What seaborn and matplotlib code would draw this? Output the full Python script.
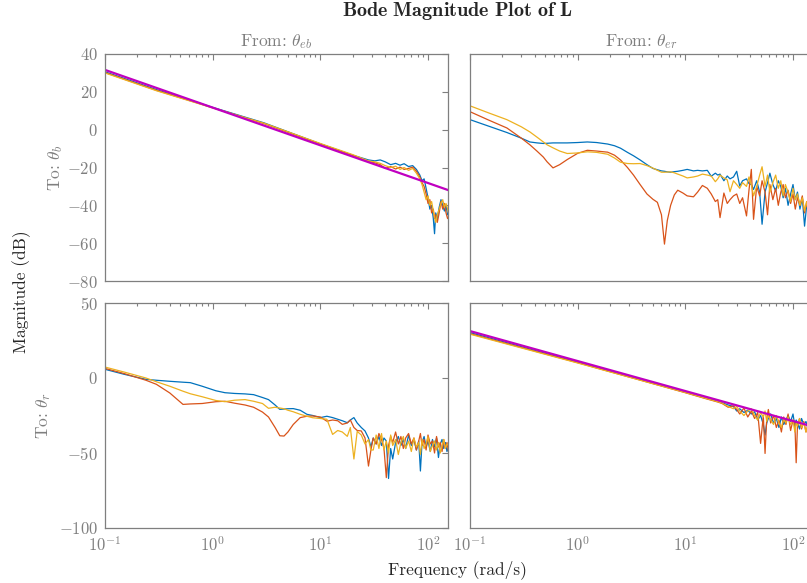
"""
Bode magnitude plot of L (2x2, MATLAB look) redone with seaborn.
"""

import numpy as np
import matplotlib
matplotlib.use("Agg")

import matplotlib.pyplot as plt
import matplotlib.ticker as mticker
import seaborn as sns

# ============================================================
# DATA (dB values)
# ============================================================
MAG_FREQ = [0.1, 155]
TL_MAG = [31.6, -32.0]
BR_MAG = [31.3, -32.5]

# From theta_eb -> To theta_b
TL_FREQ = [0.1, 0.3, 1, 3, 10, 20, 28, 32, 36, 40,
           45, 50, 55, 60, 66, 72, 78, 84, 88, 92,
           96, 100, 104, 108, 112, 115, 118, 122, 127, 132,
           137, 142, 147, 152, 155]
TL_BLUE = [30.6, 21.2, 11.8, 3.6, -7.5, -13.5, -16.0, -16.5, -16.0, -17.0,
           -18.5, -17.8, -18.8, -18.0, -19.5, -19.0, -21.0, -24.0, -27.0, -26.0,
           -31.0, -36.0, -42.0, -40.0, -47.0, -55.0, -44.0, -47.0, -41.0, -37.0,
           -40.0, -43.0, -40.0, -45.0, -44.0]
TL_ORANGE = [30.2, 20.8, 11.6, 3.2, -7.6, -13.6, -16.8, -17.5, -18.5, -20.5,
             -19.5, -20.8, -19.8, -21.0, -20.5, -19.8, -22.0, -25.0, -28.0, -30.0,
             -34.0, -39.0, -37.0, -44.0, -42.0, -47.0, -45.0, -49.0, -44.0, -38.0,
             -42.0, -39.0, -44.0, -47.0, -46.0]
TL_YELLOW = [30.0, 20.6, 11.5, 3.4, -7.3, -13.2, -16.5, -17.0, -17.8, -19.0,
             -20.0, -19.3, -21.0, -20.0, -21.5, -20.5, -23.0, -26.0, -29.0, -33.0,
             -37.0, -35.0, -40.0, -38.0, -43.0, -46.0, -49.0, -45.0, -42.0, -39.0,
             -37.0, -41.0, -39.0, -42.0, -44.0]

# From theta_er -> To theta_b
TR_FREQ = [0.1, 0.15, 0.22, 0.3, 0.36, 0.42, 0.48, 0.52, 0.59, 0.68,
           0.8, 1.0, 1.23, 1.5, 1.9, 2.2, 2.5, 2.9, 3.3, 3.8,
           4.4, 5.0, 5.5, 6.0, 6.4, 6.8, 7.3, 7.9, 8.5, 9.5,
           10.4, 11.9, 13, 14.4, 16, 17.4, 19, 20, 21, 22.8,
           24.5, 26, 28, 30, 32, 34, 37, 39, 41, 43,
           46, 49, 51.6, 55, 58, 61, 65, 69, 73, 77,
           81, 85, 90, 95, 100, 105, 110, 116, 122, 128,
           134, 140, 146, 150, 155]
TR_BLUE = [5.3, 1.8, -1.5, -4.5, -6.5, -7.0, -7.3, -7.2, -7.0, -7.0,
           -7.0, -6.8, -6.5, -6.8, -7.6, -8.5, -9.8, -12.0, -13.8, -16.0,
           -18.5, -20.5, -21.2, -21.8, -22.0, -22.3, -22.5, -22.2, -22.0, -21.5,
           -21.0, -21.8, -21.5, -21.8, -21.5, -24.6, -23.0, -24.0, -23.5, -27.0,
           -24.5, -26.0, -25.0, -22.0, -29.8, -27.0, -26.0, -28.5, -29.0, -31.6,
           -27.0, -33.0, -50.0, -33.0, -28.0, -23.0, -29.0, -32.5, -27.0, -30.0,
           -36.0, -31.0, -40.0, -34.0, -29.0, -37.0, -33.0, -42.0, -36.0, -51.0,
           -40.0, -44.0, -38.0, -47.0, -42.0]
TR_ORANGE = [9.5, 5.0, 0.9, -4.5, -8.0, -11.4, -14.5, -17.0, -20.2, -18.5,
             -15.8, -12.5, -10.9, -11.3, -11.9, -13.5, -16.0, -20.0, -24.0, -29.0,
             -34.0, -36.8, -38.4, -45.0, -60.5, -48.0, -40.0, -34.5, -32.0, -33.5,
             -35.0, -35.5, -33.0, -29.5, -31.0, -34.0, -38.0, -37.0, -46.5, -33.5,
             -39.0, -37.0, -35.0, -34.0, -39.0, -36.0, -45.6, -32.0, -21.0, -47.4,
             -30.0, -35.0, -27.0, -33.0, -45.0, -29.0, -37.0, -31.0, -40.0, -33.0,
             -29.0, -36.0, -32.0, -39.0, -34.0, -42.0, -36.0, -40.0, -35.0, -44.0,
             -38.0, -46.0, -41.0, -48.0, -43.0]
TR_YELLOW = [12.6, 8.8, 5.3, 1.5, -1.2, -4.0, -6.5, -8.0, -9.6, -11.3,
             -12.6, -12.3, -11.7, -12.0, -13.0, -15.0, -17.2, -17.9, -18.0, -17.9,
             -19.0, -20.3, -21.5, -22.5, -22.5, -22.4, -22.3, -22.8, -23.5, -24.5,
             -25.5, -25.0, -24.5, -23.5, -24.0, -24.5, -27.5, -26.0, -24.0, -25.5,
             -26.5, -32.8, -27.0, -29.0, -31.0, -28.0, -30.0, -25.0, -29.0, -35.0,
             -30.0, -24.0, -19.6, -30.0, -24.0, -33.0, -28.0, -24.0, -31.0, -27.0,
             -35.0, -29.0, -33.0, -38.0, -31.0, -37.0, -34.0, -40.0, -36.0, -43.0,
             -38.0, -45.0, -40.0, -46.0, -41.0]

# From theta_eb -> To theta_r
BL_FREQ = [0.1, 0.15, 0.24, 0.3, 0.4, 0.53, 0.62, 0.8, 1.07, 1.3,
           1.6, 2.0, 2.4, 2.9, 3.3, 3.8, 4.2, 4.6, 5.0, 5.6,
           6.5, 7.5, 8.5, 10, 11.5, 13, 14.5, 16, 17.8, 19,
           20.5, 22, 24, 26, 28, 29.5, 31, 33, 35, 37,
           39, 41, 43, 45, 47, 50, 53, 56, 59, 62,
           66, 70, 74, 78, 82, 85, 88, 92, 96, 100,
           105, 110, 115, 120, 125, 130, 135, 140, 145, 150,
           155]
BL_BLUE = [5.8, 2.5, -0.9, -1.5, -2.2, -2.8, -3.1, -5.5, -8.5, -9.8,
           -10.3, -10.6, -11.1, -13.0, -14.4, -18.0, -20.9, -20.7, -20.5, -20.4,
           -21.5, -24.2, -25.0, -26.4, -25.5, -26.4, -27.5, -28.5, -29.8, -28.0,
           -26.4, -30.0, -33.0, -35.3, -40.0, -46.0, -40.0, -44.0, -39.0, -45.0,
           -40.0, -42.0, -67.0, -47.0, -54.0, -43.0, -39.0, -45.0, -41.0, -47.0,
           -38.0, -45.0, -41.0, -48.0, -42.0, -62.0, -43.0, -39.0, -46.0, -42.0,
           -49.0, -41.0, -46.0, -40.0, -53.0, -44.0, -41.0, -47.0, -43.0, -49.0,
           -46.0]
BL_ORANGE = [6.4, 3.0, -1.5, -4.2, -10.0, -17.6, -17.3, -17.0, -15.8, -15.5,
             -16.8, -18.0, -19.5, -22.7, -26.0, -33.0, -38.5, -38.7, -36.0, -31.0,
             -26.4, -25.5, -25.3, -26.0, -28.8, -28.0, -28.5, -30.9, -30.0, -28.0,
             -33.0, -35.0, -35.3, -40.0, -58.7, -48.0, -40.0, -44.0, -37.0, -41.0,
             -47.0, -66.4, -45.0, -39.0, -43.0, -36.0, -44.0, -39.0, -47.0, -40.0,
             -37.0, -44.0, -40.0, -48.0, -42.0, -37.0, -45.0, -41.0, -48.0, -38.0,
             -44.0, -42.0, -50.0, -39.0, -46.0, -43.0, -49.0, -41.0, -47.0, -43.0,
             -49.0]
BL_YELLOW = [7.3, 4.0, 0.0, -2.5, -5.5, -8.8, -10.5, -12.5, -15.0, -15.8,
             -14.8, -14.4, -15.5, -17.0, -20.2, -19.5, -20.0, -20.5, -21.5, -22.5,
             -24.2, -25.5, -26.5, -27.0, -27.5, -37.6, -35.0, -36.0, -38.9, -33.0,
             -54.0, -35.6, -38.0, -44.0, -41.0, -48.0, -48.0, -38.0, -47.0, -37.0,
             -48.0, -42.0, -50.0, -38.0, -45.0, -41.0, -51.0, -43.0, -39.0, -47.0,
             -42.0, -49.0, -40.0, -46.0, -43.0, -51.0, -41.0, -47.0, -44.0, -39.0,
             -49.0, -45.0, -42.0, -48.0, -43.0, -50.0, -45.0, -41.0, -47.0, -44.0,
             -45.0]

# From theta_er -> To theta_r
BR_FREQ = [0.1, 1, 10, 15, 20, 22, 25, 28, 30, 32,
           35, 38, 41, 44, 47, 50, 53, 55, 57, 59,
           62, 66, 70, 74, 78, 82, 86, 90, 95, 100,
           104, 107, 110, 115, 120, 126, 132, 138, 144, 150,
           155]
BR_BLUE = [30.3, 10.6, -9.4, -13.0, -15.5, -16.5, -18.0, -19.0, -22.0, -20.5,
           -23.0, -21.5, -24.0, -22.5, -28.0, -25.0, -31.0, -38.0, -30.0, -27.0,
           -24.0, -30.0, -27.0, -33.0, -26.0, -31.0, -28.0, -25.0, -29.0, -24.0,
           -32.0, -28.0, -30.0, -34.0, -27.0, -31.0, -29.0, -34.0, -30.0, -33.0,
           -29.0]
BR_ORANGE = [29.6, 10.2, -9.8, -13.5, -16.0, -17.0, -19.5, -18.5, -21.0, -24.0,
             -20.0, -26.0, -22.0, -27.0, -23.0, -43.6, -25.0, -50.3, -27.0, -21.0,
             -30.0, -25.0, -33.0, -28.0, -36.0, -26.0, -31.0, -24.0, -35.0, -28.0,
             -30.0, -56.5, -32.0, -27.0, -34.0, -29.0, -36.0, -31.0, -28.0, -35.0,
             -31.0]
BR_YELLOW = [29.2, 10.0, -9.7, -13.3, -15.8, -16.8, -19.0, -20.5, -19.0, -22.0,
             -25.0, -22.0, -20.5, -25.0, -28.0, -23.0, -26.0, -22.0, -29.0, -25.0,
             -28.0, -31.0, -25.0, -30.0, -33.0, -27.0, -30.0, -26.0, -31.0, -28.0,
             -36.0, -30.0, -32.0, -27.0, -33.0, -30.0, -36.0, -31.0, -34.0, -33.0,
             -34.0]

# ============================================================
# STYLE
# ============================================================
BLUE, ORANGE, YELLOW, MAGENTA = "#0072BD", "#D95319", "#EDB120", "#C000C0"
GRAY = "#7f7f7f"
XLIM = (0.1, 155)
TICK_FS = 12
LABEL_FS = 12.5

sns.set_style("white")
plt.rcParams["font.family"] = "cmr10"
plt.rcParams["mathtext.fontset"] = "cm"
plt.rcParams["axes.unicode_minus"] = False
plt.rcParams["font.size"] = TICK_FS


def style_axes(ax, ylim, yticks, show_x, show_y):
    """Caja tipo MATLAB: ticks hacia dentro en los cuatro lados."""
    ax.set_xscale("log")
    ax.set_xlim(*XLIM)
    ax.set_ylim(*ylim)
    ax.set_yticks(yticks)
    ax.xaxis.set_major_locator(mticker.LogLocator(base=10))
    ax.xaxis.set_minor_locator(mticker.LogLocator(base=10, subs=np.arange(2, 10)))
    ax.xaxis.set_minor_formatter(mticker.NullFormatter())
    if show_x:
        ax.xaxis.set_major_formatter(mticker.FuncFormatter(
            lambda v, p: f"$10^{{{int(round(np.log10(v)))}}}$"))
    else:
        ax.xaxis.set_major_formatter(mticker.NullFormatter())
    if show_y:
        ax.yaxis.set_major_formatter(mticker.FuncFormatter(lambda v, p: f"${v:.0f}$"))
    else:
        ax.yaxis.set_major_formatter(mticker.NullFormatter())
    ax.tick_params(which="both", direction="in", top=True, right=True,
                   color=GRAY, labelcolor=GRAY, labelsize=TICK_FS, width=0.8)
    ax.tick_params(which="major", length=4.5, pad=5)
    ax.tick_params(which="minor", length=2.5)
    for sp in ax.spines.values():
        sp.set_color(GRAY)
        sp.set_linewidth(0.9)
    ax.set_xlabel("")
    ax.set_ylabel("")


def draw(ax, freq, blue, orange, yellow, mag=None):
    for vals, col in [(blue, BLUE), (orange, ORANGE), (yellow, YELLOW)]:
        sns.lineplot(x=freq, y=vals, ax=ax, color=col, linewidth=0.9,
                     estimator=None, sort=False)
    if mag is not None:
        sns.lineplot(x=MAG_FREQ, y=mag, ax=ax, color=MAGENTA, linewidth=1.6,
                     estimator=None, sort=False)


fig = plt.figure(figsize=(8.07, 5.83), dpi=100)
W, H = 807, 583


def add_ax(left, top, right, bottom):
    return fig.add_axes([left / W, 1 - bottom / H, (right - left) / W, (bottom - top) / H])


ax_tl = add_ax(105, 54, 448.5, 281)
ax_tr = add_ax(470, 54, 813.5, 281)
ax_bl = add_ax(105, 303, 448.5, 528)
ax_br = add_ax(470, 303, 813.5, 528)

draw(ax_tl, TL_FREQ, TL_BLUE, TL_ORANGE, TL_YELLOW, TL_MAG)
draw(ax_tr, TR_FREQ, TR_BLUE, TR_ORANGE, TR_YELLOW)
draw(ax_bl, BL_FREQ, BL_BLUE, BL_ORANGE, BL_YELLOW)
draw(ax_br, BR_FREQ, BR_BLUE, BR_ORANGE, BR_YELLOW, BR_MAG)

top_ticks = [-80, -60, -40, -20, 0, 20, 40]
bot_ticks = [-100, -50, 0, 50]
style_axes(ax_tl, (-80, 40), top_ticks, False, True)
style_axes(ax_tr, (-80, 40), top_ticks, False, False)
style_axes(ax_bl, (-100, 50), bot_ticks, True, True)
style_axes(ax_br, (-100, 50), bot_ticks, True, False)

# Etiquetas de entrada/salida
ax_tl.set_title(r"From: $\theta_{eb}$", color=GRAY, fontsize=LABEL_FS, pad=6)
ax_tr.set_title(r"From: $\theta_{er}$", color=GRAY, fontsize=LABEL_FS, pad=6)
ax_tl.set_ylabel(r"To: $\theta_b$", color=GRAY, fontsize=LABEL_FS, labelpad=1.5)
ax_bl.set_ylabel(r"To: $\theta_r$", color=GRAY, fontsize=LABEL_FS, labelpad=4.5)

fig.text(457 / W, 1 - 11 / H, r"$\mathbf{Bode\ Magnitude\ Plot\ of\ L}$",
         ha="center", va="center", fontsize=14.5)
fig.text(22 / W, 1 - 292 / H, "Magnitude (dB)", rotation=90,
         ha="center", va="center", fontsize=LABEL_FS)
fig.text(457 / W, 1 - 570 / H, "Frequency (rad/s)",
         ha="center", va="center", fontsize=LABEL_FS)

fig.savefig("out.png", dpi=100)
plt.close(fig)
